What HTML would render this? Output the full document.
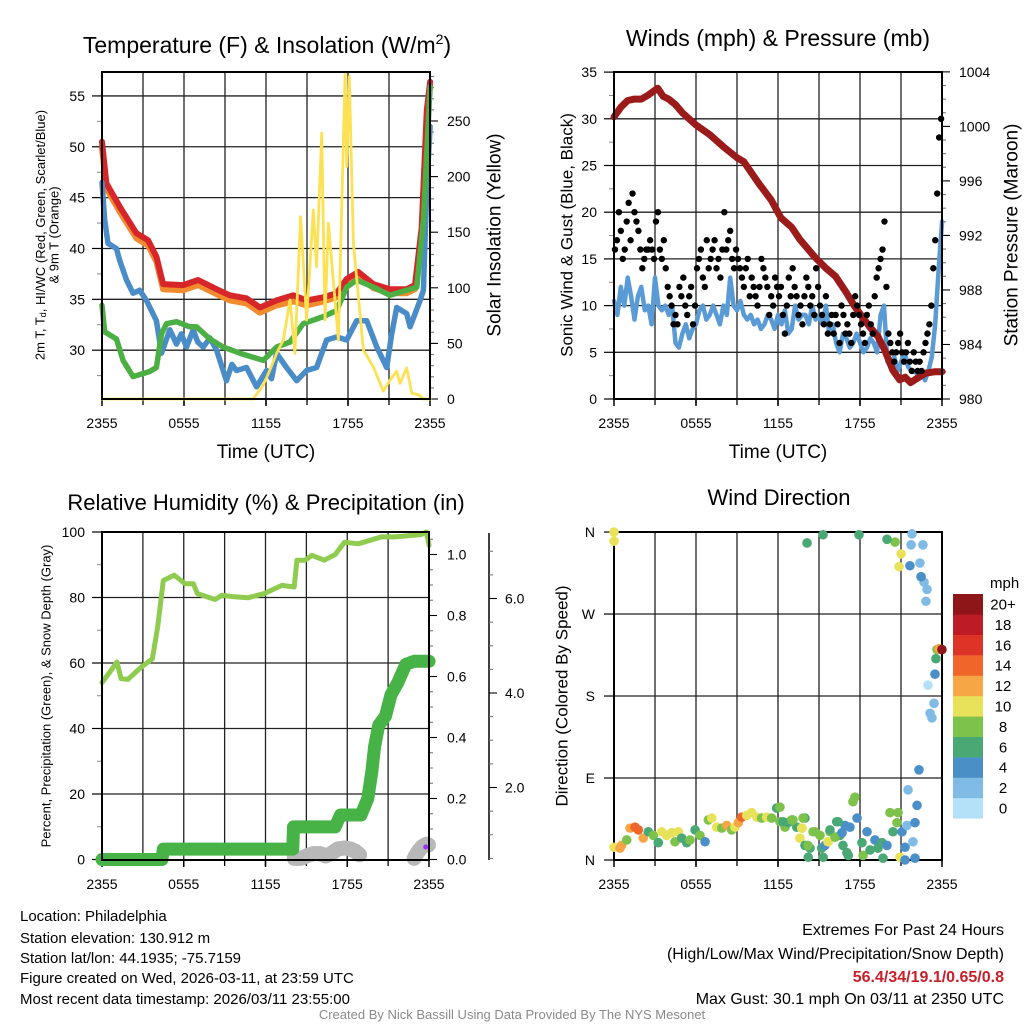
<!DOCTYPE html>
<html><head><meta charset="utf-8"><title>Mesonet station meteogram, Philadelphia</title>
<style>
html,body{margin:0;padding:0;background:#fff;}
svg{display:block;font-family:"Liberation Sans",Arial,sans-serif;}
</style></head>
<body>
<svg id="chart" width="1024" height="1024" viewBox="0 0 1024 1024" xmlns="http://www.w3.org/2000/svg">
<rect x="0" y="0" width="1024" height="1024" fill="#fff"/>
<!-- titles -->
<text x="267" y="53" font-size="23" text-anchor="middle">Temperature (F) &amp; Insolation (W/m<tspan font-size="14" dy="-9">2</tspan><tspan dy="9">)</tspan></text>
<text x="778" y="46" font-size="23" text-anchor="middle">Winds (mph) &amp; Pressure (mb)</text>
<text x="266" y="510" font-size="22" text-anchor="middle">Relative Humidity (%) &amp; Precipitation (in)</text>
<text x="779" y="505" font-size="22" text-anchor="middle">Wind Direction</text>
<!-- axis titles -->
<text x="266" y="458" font-size="19" text-anchor="middle">Time (UTC)</text>
<text x="778" y="458" font-size="19" text-anchor="middle">Time (UTC)</text>
<g transform="translate(40,235) rotate(-90)">
<text x="0" y="0" font-size="13" text-anchor="middle" dominant-baseline="central">2m T, T<tspan font-size="9" dy="3">d</tspan><tspan dy="-3">, HI/WC (Red, Green, Scarlet/Blue)</tspan></text>
<text x="0" y="14" font-size="13" text-anchor="middle" dominant-baseline="central">&amp; 9m T (Orange)</text>
</g>
<text transform="translate(495,235) rotate(-90)" font-size="19" text-anchor="middle" dominant-baseline="central">Solar Insolation (Yellow)</text>
<text transform="translate(567,235) rotate(-90)" font-size="17" text-anchor="middle" dominant-baseline="central">Sonic Wind &amp; Gust (Blue, Black)</text>
<text transform="translate(1012,235) rotate(-90)" font-size="19" text-anchor="middle" dominant-baseline="central">Station Pressure (Maroon)</text>
<text transform="translate(46,696) rotate(-90)" font-size="13" text-anchor="middle" dominant-baseline="central">Percent, Precipitation (Green), &amp; Snow Depth (Gray)</text>
<text transform="translate(562,696) rotate(-90)" font-size="17" text-anchor="middle" dominant-baseline="central">Direction (Colored By Speed)</text>
<!-- footer text -->
<g font-size="15" fill="#000">
<text x="20" y="921">Location: Philadelphia</text>
<text x="20" y="943">Station elevation: 130.912 m</text>
<text x="20" y="963">Station lat/lon: 44.1935; -75.7159</text>
<text x="20" y="983">Figure created on Wed, 2026-03-11, at 23:59 UTC</text>
<text x="20" y="1004">Most recent data timestamp: 2026/03/11 23:55:00</text>
</g>
<g font-size="16" text-anchor="end">
<text x="1004" y="935">Extremes For Past 24 Hours</text>
<text x="1004" y="959">(High/Low/Max Wind/Precipitation/Snow Depth)</text>
<text x="1004" y="982" fill="#c8202a" font-weight="bold">56.4/34/19.1/0.65/0.8</text>
<text x="1004" y="1004">Max Gust: 30.1 mph On 03/11 at 2350 UTC</text>
</g>
<text x="512" y="1019" font-size="13" fill="#8a8a8a" text-anchor="middle">Created By Nick Bassill Using Data Provided By The NYS Mesonet</text>
<text x="990" y="588" font-size="15">mph</text>
</svg>
<script>
// ---------- data ----------
const xLabels = ["2355","0555","1155","1755","2355"];
// Temperature panel
const redHours = [0,0.32,1.3,2.52,3.37,3.98,4.47,5.94,7.03,8.38,9.35,10.57,11.55,12.77,14.0,14.97,16.19,17.17,17.9,18.75,19.85,21.07,22.29,22.9,23.39,23.76,24];
const redTemp  = [50.5,46.4,44.1,41.5,40.8,39.2,36.5,36.4,36.9,36.0,35.4,35.1,34.2,34.9,35.4,34.9,35.2,35.6,37.0,37.7,36.5,36.0,36.0,36.4,42.1,53.6,56.4];
const orangeTemp = [49.9,45.9,43.6,41.0,40.3,38.7,36.0,35.9,36.4,35.5,34.9,34.6,33.7,34.4,34.8,34.4,34.8,35.2,36.6,37.3,36.1,35.6,35.6,36.0,41.8,53.2,56.0];
const greenHours = [0,0.2,1.05,1.54,2.27,3.49,3.98,4.35,4.72,5.45,6.42,6.91,7.89,8.87,10.09,11.8,12.77,13.75,14.72,16.19,17.17,17.9,18.63,19.85,21.07,22.29,23.03,23.51,24];
const dewpoint = [34.4,31.8,31.1,29.0,27.4,27.9,28.3,31.6,32.6,32.8,32.3,32.3,31.1,30.3,29.7,29.0,30.3,30.8,32.6,33.3,33.9,36.2,36.9,36.2,35.4,35.9,36.2,42.8,55.9];
const blueHours = [0,0.2,0.44,1.05,1.3,1.79,2.27,2.76,3.25,3.98,4.35,4.96,5.45,5.8,6.18,6.67,7.0,7.4,7.9,8.38,9.1,9.5,9.84,10.57,11.31,12.04,12.4,12.77,13.5,14.24,14.97,15.7,16.43,17.17,17.9,18.63,19.36,20.1,20.83,21.19,21.56,22.29,22.54,23.27,23.51,23.76,24];
const windChill = [46.5,42.8,40.5,40.0,38.8,36.9,35.6,35.9,34.9,32.9,29.7,32.0,30.6,31.6,30.3,32.0,30.8,30.3,31.2,30.0,27.0,28.6,28.0,28.3,26.4,28.0,27.2,29.7,28.3,27.0,28.0,28.3,31.0,31.3,31.0,32.9,32.9,30.3,28.3,31.6,34.2,33.6,32.3,34.9,35.9,46.0,52.0];
const solarHours = [0,11.06,11.8,12.28,12.77,13.26,13.75,14.11,14.53,14.97,15.46,15.7,16.07,16.31,16.56,17.29,17.78,17.9,18.09,18.39,19.12,19.85,20.58,21.07,21.56,21.8,22.29,22.66,23.15,23.51,24];
const solarVals  = [0,0,12.6,26,41,53,89,41,164,71,170,119,239,71,158,53,293,209,290,140,44,29,7,17,25,14,28,5,4,0,0];
const tempTicks = [30,35,40,45,50,55];
const solarTicks = [0,50,100,150,200,250];
// Winds panel
const windVals = [10.5,9,12,10,13,11,8.5,11,12,9.5,10,8,13,10,9.5,10,9,10,6,5.5,7,8,6.5,7.5,8,9.5,10,8.5,9,10,9,8,10,9,13,10,9.5,10.5,9,8.5,9,8,8.5,7.5,8,9,8.5,7.5,9,8,9.5,7,7.5,10,8.5,9,9,8,10,8.5,9,8,10,7,8,6,5,7,6.5,5.5,6,7,6,5,5.5,6.5,6,5,9,10,4,3.5,4.5,3,4,5,3.5,3,3,2.5,3,2,3,4.5,8,14,19];
const gustVals = [16,17,20,18,15,16,19, 21,17,22,20,19,18,16, 14,15,16,16,17,16,15, 19,20,16,15,17,14,12, 11,10,8,9,8,12,11, 13,10,9,11,12,8,10, 14,15,16,13,12,17,14, 15,16,17,14,15,13,16, 20,16,17,18,15,14,16, 15,14,13,12,14,15,11, 13,12,11,10,12,15,14, 13,12,9,11,10,13,12, 11,12,9,7,10,13,11, 14,12,11,9,10,8,11, 13,12,10,11,9,14,12, 10,9,8,11,7,8,9, 7,9,8,6,10,9,7, 8,7,6,9,11,10,9, 8,7,6,9,10,8,7, 11,13,14,15,16,19,12, 7,6,5,4,5,6,7, 5,4,5,6,4,3,5, 4,3,4,3,5,6,7, 8,10,14,17,22,28,30];
const pressHours = [0,0.5,1,1.5,2,2.5,3.2,3.6,4,4.5,5,6,7,8,9,9.5,10.6,11.5,12.2,13,13.6,14.7,15.5,16.2,17,17.6,18.7,19.3,19.8,20.4,20.9,21.3,21.7,22,22.8,23.5,24];
const pressVals  = [1000.7,1001.4,1001.9,1002,1002,1002.3,1002.8,1002.2,1002,1001.6,1001,1000.1,999.4,998.5,997.7,997.4,995.8,994.6,993.3,992.6,991.7,990.4,989.6,989,987.8,986.8,985.3,984.6,983.6,982.1,981.4,981.6,981.2,981.4,981.9,982,982];
const windTicks = [0,5,10,15,20,25,30,35];
const pressTicks = [980,984,988,992,996,1000,1004];
// Humidity panel
const rhHours = [0,0.5,1.1,1.4,1.9,2.9,3.7,4.1,4.5,5.3,6.1,6.7,7.0,8.3,8.8,9.7,10.7,11.9,13.2,14.1,14.3,14.9,15.4,16.3,17.1,17.8,18.8,20.5,21.5,23.4,23.8,24];
const rhVals  = [54,56.8,60.3,55.2,55,58.8,61.3,71.5,85.2,86.8,84.2,84.2,81.2,79.4,80.7,80.2,79.9,81.2,83.7,83.2,91.4,91.4,92.9,91.4,93.1,96.9,96.4,98.5,98.5,99.2,100,95.9];
const precipHours = [0,4.4,4.5,14.0,14.05,17.1,17.5,19.0,19.5,19.8,20.0,20.3,20.8,21.2,21.7,22.3,22.9,24];
const precipVals  = [0,0,0.034,0.034,0.107,0.107,0.146,0.146,0.2,0.29,0.37,0.44,0.47,0.54,0.58,0.64,0.65,0.65];
const snowHours = [14.1,14.6,15.0,15.5,16.0,16.4,16.8,17.3,17.8,18.2,18.6,19.0,22.9,23.2,23.5,23.8,24];
const snowVals  = [0.5,0.5,0.55,0.6,0.6,0.55,0.6,0.7,0.72,0.7,0.65,0.55,0.5,0.65,0.75,0.8,0.78];
const rhTicks = [0,20,40,60,80,100];
const precipTicks = [0,0.2,0.4,0.6,0.8,1.0];
const snowTicks = [2,4,6];
// Wind direction panel
const dirHours = [0,0.44,0.56,0.93,1.17,1.54,1.78,2.14,2.51,2.88,3.24,3.49,3.85,4.22,4.46,4.71,4.95,5.32,5.56,5.93,6.29,6.66,6.9,7.15,7.51,7.88,8.24,8.61,8.85,9.1,9.34,9.71,10.07,10.44,10.8,11.17,11.54,11.9,12.14,12.51,12.75,13.0,13.37,13.73,13.97,13.6,13.97,14.34,14.21,14.7,15.19,15.3,15.67,15.8,16.29,16.53,16.9,17.14,
 12.14,12.36,13.09,13.83,13.75,14.19,14.56,15.07,15.43,15.65,15.8,16.17,16.39,16.68,16.75,17.04,17.26,17.48,17.63,17.78,18.14,18.22,18.51,18.73,19.09,19.31,19.61,19.68,19.97,20.19,20.41,20.7,20.78,20.92,21.07,21.29,21.29,21.43,21.51,21.87,22.02,22.02,22.17,22.31,23.12,23.26,23.41,22.97,23.48,23.55,23.63,23.77,23.99,22.82,22.9,22.68,22.46,22.38,21.65,20.85,21.0,21.73,22.6,21.8,20.56,19.97,17.92,15.29,14.12,0,0];
const dirVals = [14,13,16,22,35,36,33,24,31,27,19,31,27,30,20,31,24,19,22,33,27,20,44,46,36,35,38,33,36,41,47,49,52,47,46,47,46,57,42,36,41,44,36,35,46,24,16,13,3,31,13,3,20,31,42,27,38,5,
 58,42,44,46,35,16,31,27,16,20,33,25,42,30,16,8,36,64,69,46,19,5,31,11,22,13,19,2,16,52,31,41,52,3,31,0,14,38,77,20,41,2,60,99,161,156,172,192,204,221,231,232,231,284,297,305,311,326,323,322,336,346,346,358,349,352,357,357,348,360,350];
const dirSpeeds = [10,12,13,8,12,14,15,12,7,9,7,10,10,10,8,10,6,7,8,7,8,4,8,10,10,8,13,8,10,13,14,10,10,10,8,10,8,6,8,8,6,8,6,10,6,10,6,6,6,8,6,6,10,8,6,6,4,6,
 8,6,8,8,10,8,8,8,4,10,6,8,6,4,6,6,4,8,8,4,6,8,4,6,4,6,6,6,4,8,6,8,8,10,4,4,4,2,2,2,4,4,4,4,2,2,2,0,4,6,8,12,20,2,2,2,4,2,4,10,10,2,2,2,8,6,6,6,6,10,10];
const dirTickLabels = ["N","E","S","W","N"];
const speedBins = ["0","2","4","6","8","10","12","14","16","18","20+"];
const speedColors = ["#b5e1f8","#80bbe6","#4a8fc7","#4aa874","#7dc24a","#e8e25a","#f6a645","#f0652a","#de3427","#bd1c26","#8e1518"];

// ---------- helpers ----------
const NS = 'http://www.w3.org/2000/svg';
const svg = document.getElementById('chart');
function mk(parent, tag, attrs, name) {
  const el = document.createElementNS(NS, tag);
  for (const k in attrs) el.setAttribute(k, attrs[k]);
  
  
  parent.appendChild(el);
  return el;
}
function label(parent, x, y, s, size, anchor, name) {
  const t = mk(parent, 'text', {x: x, y: y, 'font-size': size, 'text-anchor': anchor}, name);
  t.textContent = s;
  return t;
}
function polyline(parent, hs, vs, xf, yf, color, w, name) {
  const pts = hs.map((h, i) => xf(h).toFixed(1) + ',' + yf(vs[i]).toFixed(1)).join(' ');
  return mk(parent, 'polyline', {points: pts, fill: 'none', stroke: color, 'stroke-width': w, 'stroke-linejoin': 'round', 'stroke-linecap': 'round'}, name);
}
function fmt(v, d) { return d ? v.toFixed(d) : String(v); }

// ---------- axis scales ----------
const x1 = h => 102 + h * 13.67;
const yTemp = v => 399 - (v - 25.2) * 10.17;
const ySol = v => 399 - v * 1.112;
const x2 = h => 614 + h * 13.67;
const yWind = v => 399 - v * 9.34;
const yPress = p => 399 - (p - 980) * 13.63;
const x3 = h => 102 + h * 13.63;
const yRH = v => 859.5 - v * 3.275;
const yPrecip = v => 859.5 - v * 305;
const ySnow = v => 882 - v * 47.25;
const yDir = d => 860 - d * 0.911;

function panelFrame(g, xl, xr, yt, yb, name) {
  // vertical grid every 3 hours
  for (let k = 1; k < 8; k++) {
    const x = xl + (xr - xl) * k / 8;
    mk(g, 'line', {x1: x, y1: yt, x2: x, y2: yb, stroke: '#222', 'stroke-width': 1.3}, name + '-vgrid');
    mk(g, 'line', {x1: x, y1: yb, x2: x, y2: yb + 6, stroke: '#000', 'stroke-width': 1.3}, name + '-x-tick');
  }
  for (let k = 0; k < 5; k++) {
    const x = xl + (xr - xl) * k / 4;
    mk(g, 'line', {x1: x, y1: yb, x2: x, y2: yb + 7, stroke: '#000', 'stroke-width': 1.5}, name + '-x-tick');
    label(g, x, yb + 29, xLabels[k], 14, 'middle', name + '-x-tick-label');
  }
}
function hgrid(g, xl, xr, y, name) {
  mk(g, 'line', {x1: xl, y1: y, x2: xr, y2: y, stroke: '#222', 'stroke-width': 1.3}, name);
}
function border(g, xl, xr, yt, yb, name) {
  mk(g, 'rect', {x: xl, y: yt, width: xr - xl, height: yb - yt, fill: 'none', stroke: '#000', 'stroke-width': 2}, name);
}

// ================= Panel 1: temperature =================
const p1 = mk(svg, 'g', {}, 'temperature-panel');
panelFrame(p1, 102, 430, 72, 399, 'temperature');
tempTicks.forEach(v => {
  hgrid(p1, 102, 430, yTemp(v), 'temperature-hgrid');
  mk(p1, 'line', {x1: 92, y1: yTemp(v), x2: 102, y2: yTemp(v), stroke: '#000', 'stroke-width': 1.2}, 'temperature-y-tick');
  label(p1, 85, yTemp(v) + 5, fmt(v), 14, 'end', 'temperature-y-tick-label');
});
for (let v = 27.5; v < 57; v += 5) mk(p1, 'line', {x1: 97, y1: yTemp(v), x2: 102, y2: yTemp(v), stroke: '#888', 'stroke-width': 1}, 'temperature-y-minor-tick');
for (let v = 0; v <= 290; v += 10) {
  const major = v % 50 === 0;
  mk(p1, 'line', {x1: 430, y1: ySol(v), x2: 430 + (major ? 8 : 4), y2: ySol(v), stroke: major ? '#000' : '#777', 'stroke-width': 1.1}, 'insolation-y-tick');
}
solarTicks.forEach(v => label(p1, 447, ySol(v) + 5, fmt(v), 14, 'start', 'insolation-y-tick-label'));
polyline(p1, redHours, orangeTemp, x1, yTemp, '#f28a2e', 6, 'temp-9m-line');
polyline(p1, redHours, redTemp, x1, yTemp, '#d7262a', 6, 'temp-2m-line');
polyline(p1, blueHours, windChill, x1, yTemp, '#4a8cc8', 5.5, 'wind-chill-line');
polyline(p1, greenHours, dewpoint, x1, yTemp, '#4caf44', 5.5, 'dewpoint-line');
polyline(p1, solarHours, solarVals, x1, ySol, '#fce154', 2.8, 'insolation-line');
border(p1, 102, 430, 72, 399, 'temperature-plot-border');

// ================= Panel 2: winds & pressure =================
const p2 = mk(svg, 'g', {}, 'winds-panel');
panelFrame(p2, 614, 942, 72, 399, 'winds');
windTicks.forEach(v => {
  if (v > 0 && v < 35) hgrid(p2, 614, 942, yWind(v), 'winds-hgrid');
  mk(p2, 'line', {x1: 604, y1: yWind(v), x2: 614, y2: yWind(v), stroke: '#000', 'stroke-width': 1.2}, 'wind-y-tick');
  label(p2, 597, yWind(v) + 5, fmt(v), 14, 'end', 'wind-y-tick-label');
});
for (let v = 2.5; v < 35; v += 5) mk(p2, 'line', {x1: 609, y1: yWind(v), x2: 614, y2: yWind(v), stroke: '#888', 'stroke-width': 1}, 'wind-y-minor-tick');
for (let p = 980; p <= 1004; p += 1) {
  const major = p % 4 === 0;
  mk(p2, 'line', {x1: 942, y1: yPress(p), x2: 942 + (major ? 8 : 4), y2: yPress(p), stroke: major ? '#000' : '#777', 'stroke-width': 1.1}, 'pressure-y-tick');
}
pressTicks.forEach(p => label(p2, 959, yPress(p) + 5, fmt(p), 14, 'start', 'pressure-y-tick-label'));
polyline(p2, windVals.map((v, i) => i * 0.25), windVals, x2, yWind, '#5b9bd5', 4.5, 'sonic-wind-line');
polyline(p2, pressHours, pressVals, x2, yPress, '#9b1b1b', 7, 'pressure-line');
const gustG = mk(p2, 'g', {}, 'gust-points');
gustVals.forEach((v, i) => {
  const c = mk(gustG, 'circle', {cx: x2((i + 0.5) * 24 / gustVals.length), cy: yWind(v), r: 3.2, fill: '#000'}, 'gust-point');
});
border(p2, 614, 942, 72, 399, 'winds-plot-border');

// ================= Panel 3: humidity & precipitation =================
const p3 = mk(svg, 'g', {}, 'humidity-panel');
panelFrame(p3, 102, 429, 532, 860, 'humidity');
rhTicks.forEach(v => {
  if (v > 0 && v < 100) hgrid(p3, 102, 429, yRH(v), 'humidity-hgrid');
  mk(p3, 'line', {x1: 92, y1: yRH(v), x2: 102, y2: yRH(v), stroke: '#000', 'stroke-width': 1.2}, 'humidity-y-tick');
  label(p3, 85, yRH(v) + 5, fmt(v), 14, 'end', 'humidity-y-tick-label');
});
for (let v = 10; v < 100; v += 20) mk(p3, 'line', {x1: 97, y1: yRH(v), x2: 102, y2: yRH(v), stroke: '#888', 'stroke-width': 1}, 'humidity-y-minor-tick');
for (let v = 0; v <= 1.06; v += 0.05) {
  const major = Math.abs(v * 5 - Math.round(v * 5)) < 1e-6;
  mk(p3, 'line', {x1: 429, y1: yPrecip(v), x2: 429 + (major ? 8 : 4), y2: yPrecip(v), stroke: major ? '#000' : '#777', 'stroke-width': 1.1}, 'precip-y-tick');
}
precipTicks.forEach(v => label(p3, 447, yPrecip(v) + 5, fmt(v, 1), 14, 'start', 'precip-y-tick-label'));
mk(p3, 'line', {x1: 489, y1: 533, x2: 489, y2: 860, stroke: '#000', 'stroke-width': 1.5}, 'snow-axis-line');
for (let v = 0.5; v <= 7.3; v += 0.5) {
  const major = v % 2 === 0;
  mk(p3, 'line', {x1: 489, y1: ySnow(v), x2: 489 + (major ? 8 : 4), y2: ySnow(v), stroke: major ? '#000' : '#777', 'stroke-width': 1.1}, 'snow-y-tick');
}
snowTicks.forEach(v => label(p3, 505, ySnow(v) + 5, fmt(v, 1), 14, 'start', 'snow-y-tick-label'));
polyline(p3, rhHours, rhVals, x3, yRH, '#8fcb4f', 5, 'humidity-line');
const snowG = mk(p3, 'g', {}, 'snow-depth-points');
for (let i = 0; i < snowHours.length - 1; i++) {
  for (let s = 0; s < 4; s++) {
    const h = snowHours[i] + (snowHours[i + 1] - snowHours[i]) * s / 4;
    if (snowHours[i + 1] - snowHours[i] > 2) continue;
    const v = snowVals[i] + (snowVals[i + 1] - snowVals[i]) * s / 4;
    mk(snowG, 'circle', {cx: x3(h), cy: ySnow(v), r: 7.5, fill: '#b8b8b8'}, 'snow-depth-point');
  }
}
polyline(p3, precipHours, precipVals, x3, yPrecip, '#47b347', 13, 'precipitation-line');
mk(p3, 'circle', {cx: x3(23.75), cy: 847, r: 2.5, fill: '#9b30ff'}, 'purple-marker');
border(p3, 102, 429, 532, 860, 'humidity-plot-border');

// ================= Panel 4: wind direction =================
const p4 = mk(svg, 'g', {}, 'wind-direction-panel');
panelFrame(p4, 614, 942, 532, 860, 'direction');
dirTickLabels.forEach((s, i) => {
  const y = yDir(i * 90);
  if (i > 0 && i < 4) hgrid(p4, 614, 942, y, 'direction-hgrid');
  mk(p4, 'line', {x1: 604, y1: y, x2: 614, y2: y, stroke: '#000', 'stroke-width': 1.2}, 'direction-y-tick');
  label(p4, 595, y + 5, s, 14, 'end', 'direction-y-tick-label');
});
border(p4, 614, 942, 532, 860, 'direction-plot-border');
const dirG = mk(p4, 'g', {}, 'direction-points');
dirHours.forEach((h, i) => {
  const bin = Math.min(10, Math.floor(dirSpeeds[i] / 2));
  mk(dirG, 'circle', {cx: x2(h), cy: yDir(dirVals[i]), r: 4.8, fill: speedColors[bin]}, 'direction-point');
});
// colorbar
const cb = mk(svg, 'g', {}, 'speed-colorbar');
speedBins.forEach((s, i) => {
  const y = 594 + (10 - i) * 20.4;
  mk(cb, 'rect', {x: 953, y: y, width: 30, height: 20.6, fill: speedColors[i]}, 'colorbar-swatch');
  label(cb, 1003, y + 15.5, s, 15, 'middle', 'colorbar-label');
});
</script>
</body></html>
